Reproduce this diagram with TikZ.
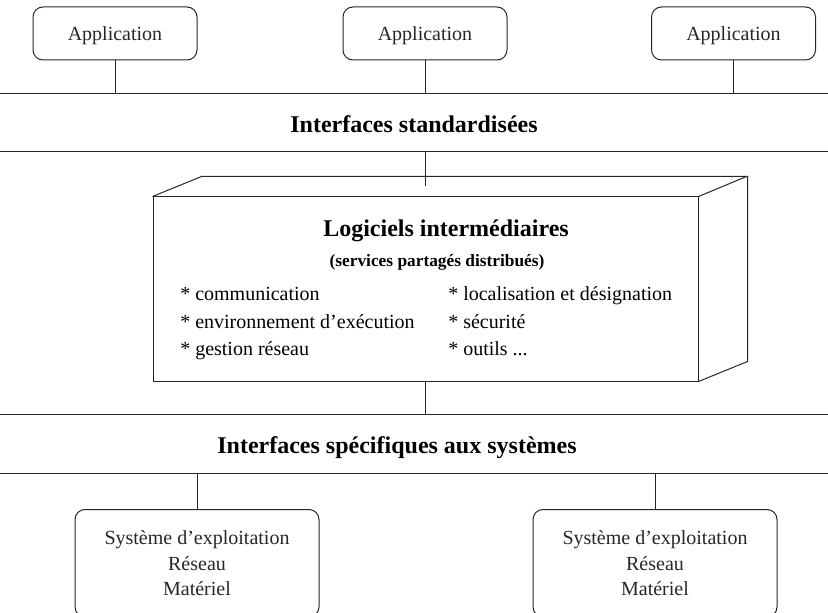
\documentclass[tikz,border=0pt]{standalone}
\usepackage{fontspec}
\setmainfont{Liberation Serif}

\tikzset{
  bus/.style={line width=0.75pt, color=black!85},
  appbox/.style={draw, bus, rounded corners=7.5pt, minimum width=123pt, minimum height=39.75pt, inner sep=0.75pt, text depth=0pt, font=\fontsize{15}{18}\selectfont},
  sysbox/.style={draw, bus, rounded corners=7.5pt, minimum width=183pt, inner xsep=0.75pt, inner ysep=16pt, align=center, anchor=north, font=\fontsize{15}{19}\selectfont},
  heading/.style={anchor=base, inner sep=0.75pt, font=\fontsize{18}{22}\selectfont\bfseries},
  itemtext/.style={anchor=base west, inner sep=0.75pt, font=\fontsize{15}{18}\selectfont},
}

\begin{document}
\begin{tikzpicture}[x=0.75pt,y=0.75pt,yscale=-1,xscale=1]
\useasboundingbox (0,0) rectangle (828,613);
\clip (0,0) rectangle (828,613);

%Straight Lines: the four bus lines
\draw [bus] (0,94) coordinate (bus1) -- (828,94);
\draw [bus] (0,152) coordinate (bus2) -- (828,152);
\draw [bus] (0,414) coordinate (bus3) -- (828,414);
\draw [bus] (0,473) coordinate (bus4) -- (828,473);

%Rounded Rect: applications
\node [appbox] (app1) at (115,33.5) {Application};
\node [appbox] (app2) at (425,33.5) {Application};
\node [appbox] (app3) at (733.5,33.5) {Application};
\draw [bus] (app1) -- (app1 |- bus1);
\draw [bus] (app2) -- (app2 |- bus1);
\draw [bus] (app3) -- (app3 |- bus1);

% Text Node
\node [heading] (stdif) at (414,133) {Interfaces standardisées};

%Shape: Cube (middleware)
\node [draw, bus, minimum width=408.75pt, minimum height=138pt, inner sep=0pt] (mw) at (425.5,289) {};
\draw [bus] (mw.north west) -- ++(49,-20) -- ++(545,0) -- (mw.north east);
\draw [bus] (mw.north east) ++(49,-20) -- ++(0,185) -- (mw.south east);
\path (mw.north) ++(0,-10) coordinate (mwtop);
\draw [bus] (mwtop |- bus2) -- (mwtop);
\draw [bus] (mw.south) -- (mw.south |- bus3);

% Text Node
\node [heading] (mwtitle) at (446,236) {Logiciels intermédiaires};
% Text Node
\node [heading, font=\fontsize{13}{16}\selectfont\bfseries] (mwsub) at (437,266) {(services partagés distribués)};
% Text Node: left column
\node [itemtext] (it1) at (179,300) {* communication};
\node [itemtext] (it2) at (179,328) {* environnement d’exécution};
\node [itemtext] (it3) at (179,355) {* gestion réseau};
% Text Node: right column
\node [itemtext] (it4) at (447,300) {* localisation et désignation};
\node [itemtext] (it5) at (447,328) {* sécurité};
\node [itemtext] (it6) at (447,355) {* outils ...};

% Text Node
\node [heading] (sysif) at (397,453) {Interfaces spécifiques aux systèmes};

%Rounded Rect: systems
\node [sysbox] (os1) at (197,509) {Système d’exploitation\\Réseau\\Matériel};
\node [sysbox] (os2) at (655,509) {Système d’exploitation\\Réseau\\Matériel};
\draw [bus] (os1) -- (os1 |- bus4);
\draw [bus] (os2) -- (os2 |- bus4);

\end{tikzpicture}
\end{document}
